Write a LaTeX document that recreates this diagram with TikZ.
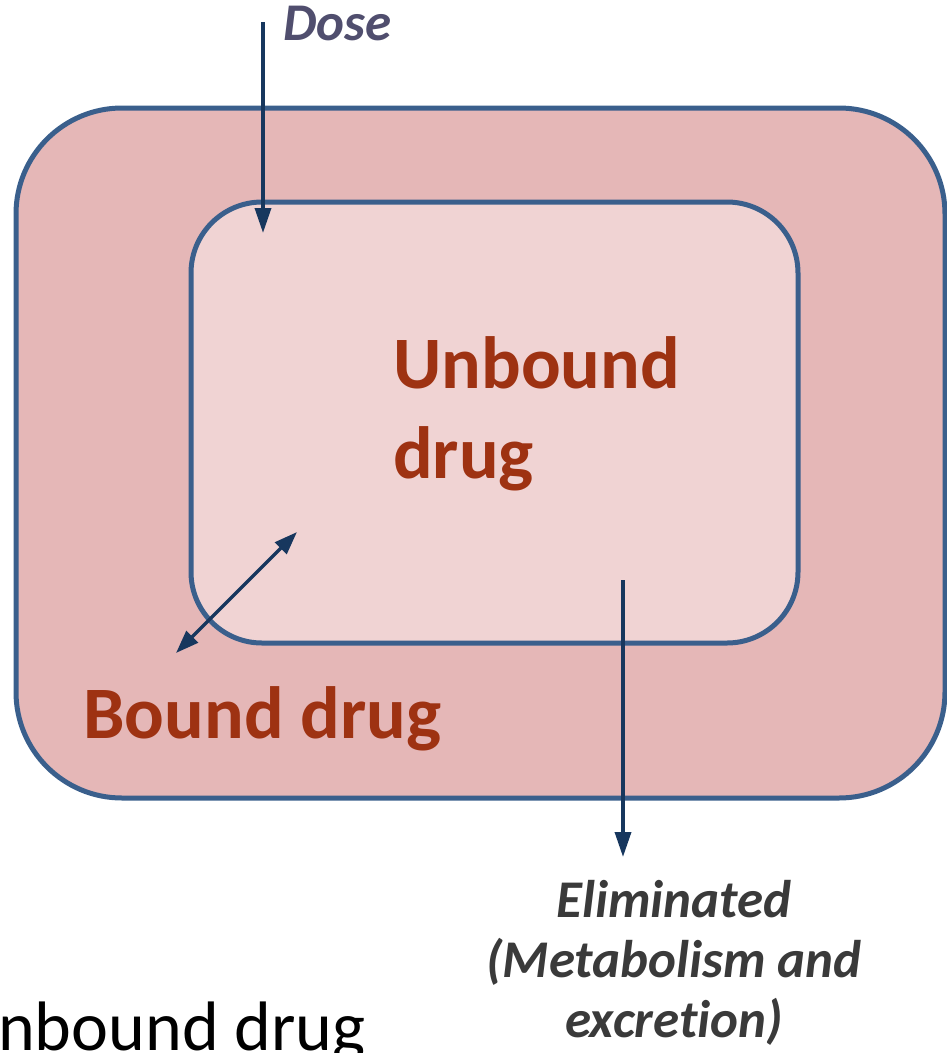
\documentclass[tikz,border=0pt]{standalone}
\usepackage{fontspec}
\setmainfont{Carlito}[Ligatures=NoCommon]
\usetikzlibrary{arrows.meta}
\definecolor{boxline}{RGB}{58,95,140}
\definecolor{outerfill}{RGB}{229,183,183}
\definecolor{innerfill}{RGB}{240,211,211}
\definecolor{arrowcol}{RGB}{23,55,94}
\definecolor{drugtext}{RGB}{158,50,18}
\definecolor{dosetext}{RGB}{80,78,110}
\definecolor{elimtext}{RGB}{58,58,58}
\begin{document}
\begin{tikzpicture}[x=1pt,y=-1pt,
  compartment/.style={draw=boxline, line width=5pt, inner sep=0pt},
  flow/.style={draw=arrowcol, line width=3.5pt, -{Triangle[width=16pt,length=25pt]}},
  exchange/.style={draw=arrowcol, line width=3.5pt, {Triangle[width=16pt,length=23pt]}-{Triangle[width=16pt,length=23pt]}},
  druglabel/.style={text=drugtext, font=\bfseries\fontsize{74}{90}\selectfont, inner sep=0pt},
  notelabel/.style={font=\bfseries\itshape\fontsize{53}{60}\selectfont, inner sep=0pt}]
\useasboundingbox (0,0) rectangle (947,1053);
\node[compartment, fill=outerfill, rounded corners=106pt, minimum width=929pt, minimum height=690pt] (outer) at (480.5,453) {};
\node[compartment, fill=innerfill, rounded corners=71pt, minimum width=607pt, minimum height=441pt] (inner) at (494.5,422.5) {};
\node[druglabel, anchor=base west, align=left] (unbound) at (393,478) {Unbound\\drug};
\node[druglabel, anchor=base west] (bound) at (83,738) {Bound drug};
\node[notelabel, text=dosetext, anchor=base west] (dose) at (283,40) {Dose};
\node[notelabel, text=elimtext, anchor=base, align=center] (elim) at (674,1037) {Eliminated\\(Metabolism and\\excretion)};
\node[font=\fontsize{70}{86}\selectfont, anchor=base west, inner sep=0pt] (freelabel) at (-2,1050) {nbound drug};
\coordinate (dosestart) at (263,22);
\coordinate (doseend) at (263,233);
\coordinate (elimstart) at (623,580);
\coordinate (elimend) at (623,857);
\coordinate (bindin) at (297,532);
\coordinate (bindout) at (176,653);
\draw[flow] (dosestart) -- (doseend);
\draw[flow] (elimstart) -- (elimend);
\draw[exchange] (bindout) -- (bindin);
\end{tikzpicture}
\end{document}
